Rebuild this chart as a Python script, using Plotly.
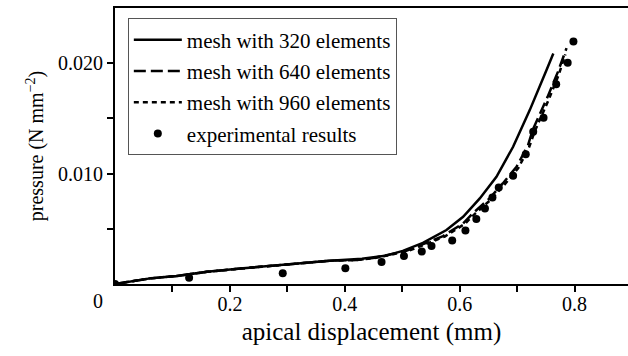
import plotly.graph_objects as go

# experimental results
exp_x = [0.0, 0.129, 0.292, 0.401, 0.464, 0.503, 0.534, 0.551, 0.587, 0.610, 0.629,
         0.644, 0.657, 0.668, 0.693, 0.715, 0.728, 0.746, 0.768, 0.788, 0.798]
exp_y = [0.0, 0.00057, 0.00097, 0.00142, 0.00199, 0.00253, 0.00294, 0.00344, 0.00394,
         0.00484, 0.00588, 0.00683, 0.00783, 0.00875, 0.00980, 0.01176, 0.01380,
         0.01505, 0.01810, 0.02003, 0.02196]

# mesh with 320 elements
m320_x = [0.0, 0.061, 0.107, 0.160, 0.223, 0.292, 0.374, 0.430, 0.470, 0.501, 0.536,
          0.577, 0.606, 0.635, 0.664, 0.693, 0.722, 0.751, 0.763]
m320_y = [0.0, 0.00051, 0.00072, 0.00110, 0.00142, 0.00172, 0.00211, 0.00228, 0.00255,
          0.00300, 0.00372, 0.00489, 0.00609, 0.00775, 0.00971, 0.01243, 0.01575,
          0.01937, 0.02087]

# mesh with 640 elements
m640_x = [0.0, 0.061, 0.107, 0.160, 0.223, 0.292, 0.374, 0.420, 0.449, 0.507, 0.571,
          0.606, 0.623, 0.652, 0.675, 0.699, 0.719, 0.727, 0.753, 0.771, 0.786]
m640_y = [0.0, 0.00051, 0.00072, 0.00110, 0.00142, 0.00172, 0.00211, 0.00217, 0.00235,
          0.00300, 0.00434, 0.00549, 0.00640, 0.00776, 0.00911, 0.01062, 0.01258,
          0.01394, 0.01695, 0.01921, 0.02136]

# mesh with 960 elements
m960_x = [0.0, 0.061, 0.107, 0.160, 0.223, 0.292, 0.374, 0.420, 0.452, 0.510, 0.574,
          0.609, 0.626, 0.655, 0.678, 0.702, 0.721, 0.730, 0.755, 0.772, 0.784]
m960_y = [0.0, 0.00051, 0.00072, 0.00110, 0.00142, 0.00172, 0.00211, 0.00217, 0.00235,
          0.00298, 0.00430, 0.00545, 0.00633, 0.00768, 0.00900, 0.01050, 0.01240,
          0.01375, 0.01670, 0.01890, 0.02080]

x_tickvals = [0.1, 0.2, 0.3, 0.4, 0.5, 0.6, 0.7, 0.8, 0.9]
x_ticktext = ["", "0.2", "", "0.4", "", "0.6", "", "0.8", ""]
y_tickvals = [0.005, 0.010, 0.015, 0.020]
y_ticktext = ["", "0.010", "", "0.020"]

FONT = "Liberation Serif, Times New Roman, serif"

fig = go.Figure()
fig.add_trace(go.Scatter(x=m320_x, y=m320_y, mode="lines", name="mesh with 320 elements",
                         line=dict(color="black", width=2.5), legendgroup="a"))
fig.add_trace(go.Scatter(x=m640_x, y=m640_y, mode="lines", name="mesh with 640 elements",
                         line=dict(color="black", width=2.5, dash="12px,5px"), legendgroup="b"))
fig.add_trace(go.Scatter(x=m960_x, y=m960_y, mode="lines", name="mesh with 960 elements",
                         line=dict(color="black", width=2.5, dash="5px,4px"), legendgroup="c"))
fig.add_trace(go.Scatter(x=exp_x, y=exp_y, mode="markers", name="experimental results",
                         marker=dict(color="black", size=8), legendgroup="d"))

fig.update_layout(
    width=628, height=356,
    margin=dict(l=115, r=0, t=8, b=72),
    paper_bgcolor="white", plot_bgcolor="white",
    font=dict(family=FONT, size=20, color="black"),
    showlegend=True,
    legend=dict(x=0.025, y=0.962, xanchor="left", yanchor="top",
                bordercolor="#555555", borderwidth=1, bgcolor="white",
                font=dict(family=FONT, size=21, color="black"),
                tracegroupgap=1, itemwidth=48),
    xaxis=dict(range=[0, 0.893], showgrid=False, zeroline=False,
               showline=True, linecolor="black", linewidth=2, mirror=True,
               ticks="outside", ticklen=6, tickwidth=1.5, tickcolor="black",
               ticklabelstandoff=-5,
               tickvals=x_tickvals, ticktext=x_ticktext,
               title=dict(text="apical displacement (mm)", standoff=8,
                          font=dict(family=FONT, size=25))),
    yaxis=dict(range=[0, 0.025], showgrid=False, zeroline=False,
               showline=True, linecolor="black", linewidth=2,
               ticks="outside", ticklen=6, tickwidth=1.5, tickcolor="black",
               tickvals=y_tickvals, ticktext=y_ticktext,
               title=dict(text="pressure (N mm<sup>−2</sup>)", standoff=9,
                          font=dict(family=FONT, size=20))),
)
fig.add_annotation(text="0", xref="paper", yref="paper", x=-0.033, y=0,
                   xanchor="center", yanchor="top", yshift=-4, showarrow=False,
                   font=dict(family=FONT, size=20, color="black"))

fig.write_html("out.html")
